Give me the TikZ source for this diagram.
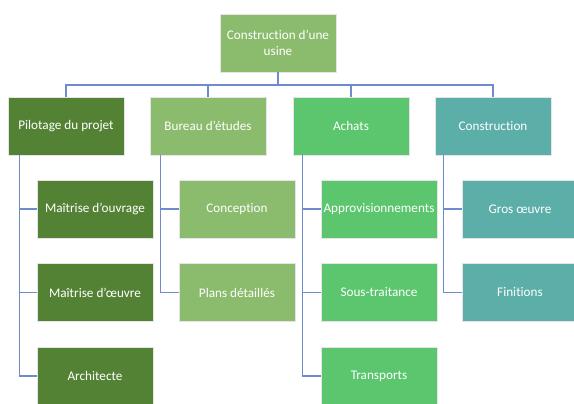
\documentclass[tikz,border=0pt]{standalone}
\usepackage{fontspec}
\setmainfont[Ligatures=NoCommon]{Carlito}
\definecolor{cdark}{RGB}{84,130,53}
\definecolor{clight}{RGB}{139,187,108}
\definecolor{cmid}{RGB}{91,198,110}
\definecolor{cteal}{RGB}{91,175,168}
\definecolor{cline}{RGB}{110,140,205}
\begin{document}
\begin{tikzpicture}[x=1pt,y=-1pt,
  box/.style={draw=white!90!black,line width=0.6pt,minimum width=116pt,minimum height=58pt,inner sep=1pt,
    text=white,font=\fontsize{13.2}{16}\selectfont,align=center},
  link/.style={draw=cline,line width=1.2pt}]
\useasboundingbox (0,0) rectangle (574,404);
\node[box,fill=clight] (top) at (278,43) {Construction d’une\\usine};
\node[box,fill=cdark] (p1) at (66,126) {Pilotage du projet};
\node[box,fill=clight] (p2) at (208,126) {Bureau d’études};
\node[box,fill=cmid] (p3) at (351,126) {Achats};
\node[box,fill=cteal] (p4) at (493,126) {Construction};
\coordinate (bus) at (278,85);
\draw[link] (top.south) -- (bus);
\foreach \p in {p1,p2,p3,p4} \draw[link] (\p.north) |- (bus);
% children
\node[box,fill=cdark] (c11) at (95,209) {Maîtrise d’ouvrage};
\node[box,fill=cdark] (c12) at (95,292.5) {Maîtrise d’œuvre};
\node[box,fill=cdark] (c13) at (95,376) {Architecte};
\node[box,fill=clight] (c21) at (237,209) {Conception};
\node[box,fill=clight] (c22) at (237,292.5) {Plans détaillés};
\node[box,fill=cmid] (c31) at (379,209) {Approvisionnements};
\node[box,fill=cmid] (c32) at (379,292.5) {Sous-traitance};
\node[box,fill=cmid] (c33) at (379,376) {Transports};
\node[box,fill=cteal] (c41) at (520,209) {Gros œuvre};
\node[box,fill=cteal] (c42) at (520,292.5) {Finitions};
\foreach \c in {c11,c12,c13} \draw[link] ([xshift=12pt]p1.south west) |- (\c.west);
\foreach \c in {c21,c22} \draw[link] ([xshift=11pt]p2.south west) |- (\c.west);
\foreach \c in {c31,c32,c33} \draw[link] ([xshift=10pt]p3.south west) |- (\c.west);
\foreach \c in {c41,c42} \draw[link] ([xshift=9pt]p4.south west) |- (\c.west);
\end{tikzpicture}
\end{document}
